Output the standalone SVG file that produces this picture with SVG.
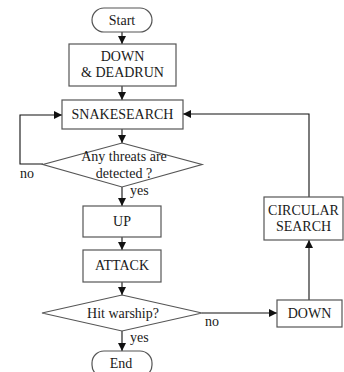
<svg xmlns="http://www.w3.org/2000/svg" width="344" height="372" viewBox="0 0 344 372">
  <style>
    .shape { fill: #fff; stroke: #555; stroke-width: 1.2; }
    .lbl { font-family: "Liberation Serif", "Times New Roman", serif; font-size: 14px; fill: #1a1a1a; text-anchor: middle; }
    .note { font-family: "Liberation Serif", "Times New Roman", serif; font-size: 14px; fill: #1a1a1a; }
    .conn { fill: none; stroke: #111; stroke-width: 1.1; }
  </style>
  <defs>
    <marker id="arrow" viewBox="0 0 8 8" refX="8" refY="4" markerWidth="8" markerHeight="8" markerUnits="userSpaceOnUse" orient="auto">
      <path d="M0,0 L8,4 L0,8 Z" fill="#111"/>
    </marker>
  </defs>
  <rect width="344" height="372" fill="#fff"/>

  <g id="connectors">
    <line class="conn" x1="122" y1="32" x2="122" y2="44" marker-end="url(#arrow)"/>
    <line class="conn" x1="122" y1="86" x2="122" y2="100" marker-end="url(#arrow)"/>
    <line class="conn" x1="122" y1="129" x2="122" y2="143" marker-end="url(#arrow)"/>
    <polyline class="conn" points="43,164 20,164 20,115 62,115" marker-end="url(#arrow)"/>
    <line class="conn" x1="122" y1="187" x2="122" y2="206" marker-end="url(#arrow)"/>
    <line class="conn" x1="122" y1="237" x2="122" y2="250" marker-end="url(#arrow)"/>
    <line class="conn" x1="122" y1="282" x2="122" y2="295" marker-end="url(#arrow)"/>
    <line class="conn" x1="122" y1="331" x2="122" y2="351" marker-end="url(#arrow)"/>
    <line class="conn" x1="202" y1="313" x2="277" y2="313" marker-end="url(#arrow)"/>
    <line class="conn" x1="309" y1="300" x2="309" y2="240" marker-end="url(#arrow)"/>
    <polyline class="conn" points="309,197 309,114 183,114" marker-end="url(#arrow)"/>
    <text class="note" x="20" y="178">no</text>
    <text class="note" x="130" y="195">yes</text>
    <text class="note" x="130" y="342">yes</text>
    <text class="note" x="205" y="326">no</text>
  </g>

  <g id="start">
    <rect class="shape" x="92" y="8" width="60" height="24" rx="12"/>
    <text class="lbl" x="122" y="25">Start</text>
  </g>
  <g id="down-deadrun">
    <rect class="shape" x="69" y="44" width="107" height="42"/>
    <text class="lbl" x="122.5" y="61">DOWN</text>
    <text class="lbl" x="122.5" y="77">&amp; DEADRUN</text>
  </g>
  <g id="snakesearch">
    <rect class="shape" x="62" y="100" width="121" height="29"/>
    <text class="lbl" x="122.5" y="119">SNAKESEARCH</text>
  </g>
  <g id="threats">
    <polygon class="shape" points="122,143 202,164.5 122,187 43,164.5"/>
    <text class="lbl" x="124" y="161">Any threats are</text>
    <text class="lbl" x="124" y="178">detected ?</text>
  </g>
  <g id="up">
    <rect class="shape" x="83" y="206" width="78" height="31"/>
    <text class="lbl" x="122" y="226">UP</text>
  </g>
  <g id="attack">
    <rect class="shape" x="83" y="250" width="78" height="32"/>
    <text class="lbl" x="122" y="270">ATTACK</text>
  </g>
  <g id="hit-warship">
    <polygon class="shape" points="122,295 202,313 122,331 42,313"/>
    <text class="lbl" x="123" y="318">Hit warship?</text>
  </g>
  <g id="end">
    <rect class="shape" x="92" y="351" width="60" height="26" rx="12"/>
    <text class="lbl" x="121" y="368">End</text>
  </g>
  <g id="down">
    <rect class="shape" x="277" y="300" width="65" height="27"/>
    <text class="lbl" x="309.5" y="318">DOWN</text>
  </g>
  <g id="circular-search">
    <rect class="shape" x="264" y="197" width="79" height="43"/>
    <text class="lbl" x="303.5" y="215">CIRCULAR</text>
    <text class="lbl" x="303.5" y="231">SEARCH</text>
  </g>
</svg>
